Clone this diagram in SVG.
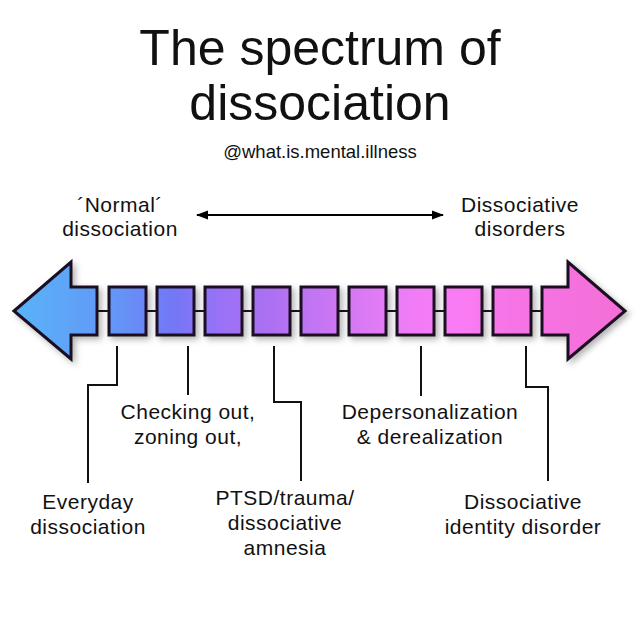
<svg xmlns="http://www.w3.org/2000/svg" width="640" height="640" viewBox="0 0 640 640">
<defs>
<linearGradient id="spec" gradientUnits="userSpaceOnUse" x1="14" y1="0" x2="625" y2="0">
<stop offset="0" stop-color="#58b4f8"/>
<stop offset="0.17" stop-color="#6495f7"/>
<stop offset="0.26" stop-color="#7377f6"/>
<stop offset="0.34" stop-color="#9a72f6"/>
<stop offset="0.42" stop-color="#ad70f2"/>
<stop offset="0.5" stop-color="#c575f3"/>
<stop offset="0.58" stop-color="#dd7af5"/>
<stop offset="0.65" stop-color="#f07cf7"/>
<stop offset="0.73" stop-color="#fa7cf5"/>
<stop offset="0.81" stop-color="#f674e6"/>
<stop offset="1" stop-color="#f46ed6"/>
</linearGradient>
<filter id="shadow" x="-20%" y="-20%" width="150%" height="150%">
<feDropShadow dx="3" dy="3" stdDeviation="3" flood-color="#000" flood-opacity="0.3"/>
</filter>
<marker id="ah" viewBox="0 0 12 10" refX="11" refY="5" markerWidth="12" markerHeight="10" markerUnits="userSpaceOnUse" orient="auto-start-reverse">
<path d="M0,0.5 L12,5 L0,9.5 Z" fill="#000"/>
</marker>
</defs>
<style>
text{font-family:"Liberation Sans","DejaVu Sans",sans-serif;fill:#111;text-anchor:middle}
.title{font-size:50px}
.sub{font-size:18.5px}
.lbl{font-size:21px;letter-spacing:0.5px}
.shape{fill:url(#spec);stroke:#1a1020;stroke-width:3;stroke-linejoin:miter;filter:url(#shadow)}
.lead{fill:none;stroke:#111;stroke-width:2}
</style>
<rect width="640" height="640" fill="#fff"/>

<g id="title">
<text class="title" x="320" y="65">The spectrum of</text>
<text class="title" x="320" y="120">dissociation</text>
<text class="sub" x="320" y="158">@what.is.mental.illness</text>
</g>

<g id="scale-top">
<text class="lbl" x="120" y="212">´Normal´</text>
<text class="lbl" x="120" y="236">dissociation</text>
<text class="lbl" x="520" y="212">Dissociative</text>
<text class="lbl" x="520" y="236">disorders</text>
</g>

<g id="connectors">
<line x1="197" y1="215" x2="443" y2="215" stroke="#000" stroke-width="2" marker-start="url(#ah)" marker-end="url(#ah)"/>
<line x1="97" y1="311" x2="542" y2="311" stroke="#1a1020" stroke-width="2"/>
<polyline class="lead" points="117,346 117,385 88,385 88,483"/>
<polyline class="lead" points="188,346 188,395"/>
<polyline class="lead" points="274,346 274,402 301,402 301,481"/>
<polyline class="lead" points="421,346 421,396"/>
<polyline class="lead" points="526,346 526,387 548,387 548,481"/>
</g>

<g id="arrow-left"><path class="shape" d="M14,311 L71,262 L71,287 L97,287 L97,335 L71,335 L71,359 Z"/></g>
<g id="arrow-right"><path class="shape" d="M625,311 L568,262 L568,287 L542,287 L542,335 L568,335 L568,359 Z"/></g>
<g id="box1"><rect class="shape" x="109" y="287" width="37" height="48"/></g>
<g id="box2"><rect class="shape" x="157" y="287" width="37" height="48"/></g>
<g id="box3"><rect class="shape" x="205" y="287" width="37" height="48"/></g>
<g id="box4"><rect class="shape" x="253" y="287" width="37" height="48"/></g>
<g id="box5"><rect class="shape" x="301" y="287" width="37" height="48"/></g>
<g id="box6"><rect class="shape" x="349" y="287" width="37" height="48"/></g>
<g id="box7"><rect class="shape" x="397" y="287" width="37" height="48"/></g>
<g id="box8"><rect class="shape" x="445" y="287" width="37" height="48"/></g>
<g id="box9"><rect class="shape" x="493" y="287" width="38" height="48"/></g>

<g id="label-checking">
<text class="lbl" x="188" y="419">Checking out,</text>
<text class="lbl" x="188" y="444">zoning out,</text>
</g>
<g id="label-depersonalization">
<text class="lbl" x="430" y="419">Depersonalization</text>
<text class="lbl" x="430" y="444">&amp; derealization</text>
</g>
<g id="label-everyday">
<text class="lbl" x="88" y="509">Everyday</text>
<text class="lbl" x="88" y="534">dissociation</text>
</g>
<g id="label-ptsd">
<text class="lbl" x="285" y="505">PTSD/trauma/</text>
<text class="lbl" x="285" y="530">dissociative</text>
<text class="lbl" x="285" y="555">amnesia</text>
</g>
<g id="label-did">
<text class="lbl" x="523" y="509">Dissociative</text>
<text class="lbl" x="523" y="534">identity disorder</text>
</g>
</svg>
